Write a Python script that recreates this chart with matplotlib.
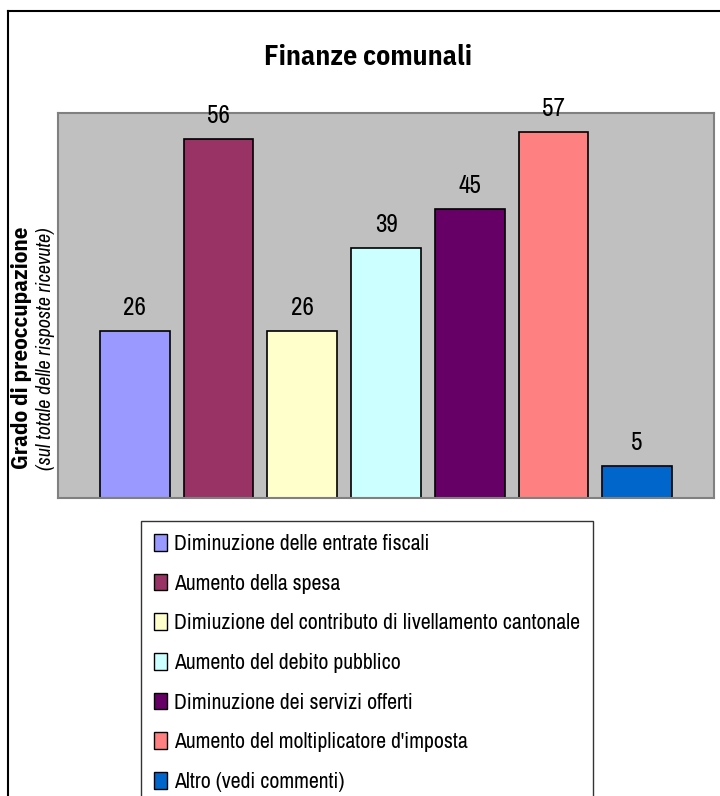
import matplotlib
matplotlib.use("Agg")
import matplotlib.pyplot as plt
from matplotlib import font_manager
from matplotlib.lines import Line2D
from matplotlib.patches import Patch

# font stretta tipo Arial Narrow, se c'e'
nomi = set(f.name for f in font_manager.fontManager.ttflist)
def scegli(lista, riserva):
    for n in lista:
        if n in nomi:
            return n
    return riserva

font = scegli(["Liberation Sans Narrow", "Arial Narrow", "Archivo Narrow"], "Liberation Sans")
font_grassetto = scegli(["Liberation Sans Narrow", "Arial Narrow", "IBM Plex Sans Condensed",
                         "Roboto Condensed", "Asap Condensed"], "Liberation Sans")
plt.rcParams['font.family'] = [font, 'DejaVu Sans']

# Dati
voci = ["Diminuzione delle entrate fiscali",
        "Aumento della spesa",
        "Dimiuzione del contributo di livellamento cantonale",
        "Aumento del debito pubblico",
        "Diminuzione dei servizi offerti",
        "Aumento del moltiplicatore d'imposta",
        "Altro (vedi commenti)"]
valori = [26, 56, 26, 39, 45, 57, 5]
colori = ["#9999ff", "#993366", "#ffffcc", "#ccffff", "#660066", "#ff8080", "#0066cc"]

fig = plt.figure(figsize=(7.2, 7.96), dpi=100)
ax = fig.add_axes([58/720, 1-498/796, 656/720, 385/796])
ax.set_facecolor("#c0c0c0")

pos = list(range(len(valori)))
barre = ax.bar(pos, valori, width=70/84, color=colori, edgecolor="black", linewidth=1.2)
for x, v in zip(pos, valori):
    ax.annotate(str(v), (x, v), xytext=(0, 11.5), textcoords="offset points",
                ha="center", va="baseline", fontsize=18)

ax.set_xlim(-0.5-35/84, 6.5+35/84)
ax.set_ylim(0, 60)
ax.set_xticks([])
ax.set_yticks([])
for s in ax.spines.values():
    s.set_color("#808080")
    s.set_linewidth(1.5)

# titolo e etichette asse
fig.text(368/720, 1-65/796, "Finanze comunali", ha="center", va="baseline",
         fontsize=20, fontweight="bold", family=[font_grassetto, 'DejaVu Sans'])
fig.text(22/720, 1-348/796, "Grado di preoccupazione", rotation=90,
         ha="center", va="center", fontsize=16.5, fontweight="bold",
         family=[font_grassetto, 'DejaVu Sans'])
fig.text(46/720, 1-349/796, "(sul totale delle risposte ricevute)", rotation=90,
         ha="center", va="center", fontsize=14.5, fontstyle="italic")

# cornice esterna (tagliata a destra e in basso)
fig.add_artist(Line2D([8/720, 8/720], [1-11/796, 0], color="black", lw=1.5))
fig.add_artist(Line2D([8/720, 1], [1-11/796, 1-11/796], color="black", lw=1.5))

# legenda
maniglie = [Patch(facecolor=c, edgecolor="black", linewidth=1) for c in colori]
fig.legend(maniglie, voci, loc="upper left", bbox_to_anchor=(141/720, 1-521/796),
           fontsize=15.7, frameon=True, fancybox=False, edgecolor="black",
           handlelength=0.6, handleheight=0.8, handletextpad=0.3,
           labelspacing=0.9, borderpad=0.6, borderaxespad=0)

fig.savefig("out.png", dpi=100)
